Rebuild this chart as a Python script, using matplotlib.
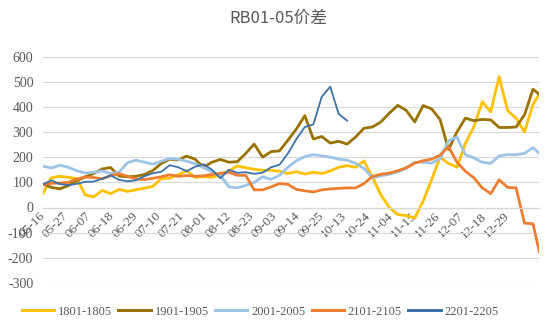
import numpy as np
import matplotlib
matplotlib.use("Agg")
import matplotlib.pyplot as plt

plt.rcParams['axes.unicode_minus'] = False

# ---------------- data ----------------
title = "RB01-05价差"
tick_labels = ['05-16', '05-27', '06-07', '06-18', '06-29', '07-10', '07-21',
               '08-01', '08-12', '08-23', '09-03', '09-14', '09-25', '10-13',
               '10-24', '11-04', '11-15', '11-26', '12-07', '12-18', '12-29']
n_categories = 236          # daily categories on the x axis
label_step = 11             # one tick label every 11 categories
sample_idx = list(range(0, 233, 4)) + [235]   # category index of each sampled value

series_names = ['1801-1805', '1901-1905', '2001-2005', '2101-2105', '2201-2205']

s1801 = [57, 118, 124, 120, 115, 50, 42, 68, 55, 72,
         64, 70, 77, 84, 115, 117, 130, 146, 120, 122,
         120, 130, 145, 165, 158, 152, 148, 148, 144, 135,
         142, 133, 140, 135, 145, 160, 166, 160, 185, 120,
         50, 0, -28, -32, -42, 25, 110, 200, 175, 160,
         255, 320, 420, 380, 520, 385, 355, 300, 410, 450]

s1901 = [93, 80, 74, 87, 106, 122, 135, 153, 159, 125,
         122, 124, 131, 147, 175, 192, 189, 204, 192, 160,
         180, 191, 180, 182, 215, 252, 200, 222, 225, 268,
         312, 365, 272, 282, 256, 263, 252, 280, 315, 320,
         340, 375, 406, 386, 340, 405, 392, 350, 230, 300,
         355, 345, 350, 348, 318, 318, 320, 368, 470, 450]

s2001 = [164, 157, 168, 160, 146, 137, 140, 145, 135, 140,
         178, 188, 180, 172, 184, 195, 192, 184, 174, 158,
         142, 128, 82, 78, 88, 100, 122, 112, 128, 160,
         186, 202, 210, 205, 200, 192, 188, 176, 155, 118,
         126, 132, 142, 156, 180, 180, 176, 195, 265, 280,
         210, 197, 180, 175, 205, 210, 210, 215, 238, 216]

s2101 = [91, 96, 97, 100, 113, 121, 119, 114, 126, 134,
         124, 113, 111, 116, 122, 130, 124, 127, 124, 126,
         131, 136, 140, 128, 128, 70, 70, 82, 95, 92,
         72, 66, 62, 70, 74, 76, 78, 78, 95, 124,
         132, 137, 146, 158, 176, 186, 192, 208, 242, 180,
         144, 118, 78, 55, 110, 80, 78, -62, -65, -175]

s2201 = [92, 108, 93, 89, 94, 102, 103, 114, 128, 110,
         104, 108, 124, 136, 142, 168, 160, 144, 162, 172,
         150, 116, 150, 138, 140, 134, 138, 160, 170, 215,
         272, 320, 330, 440, 480, 372, 345]

colors = ['#FFC000', '#997300', '#9DC3E6', '#ED7D31', '#3D72A8']
widths = [2.0, 2.0, 2.0, 2.0, 1.3]

# ---------------- figure ----------------
serif = ['Liberation Serif', 'DejaVu Serif']
txt_color = '#595959'

fig = plt.figure(figsize=(5.5, 3.28), dpi=100)
ax = fig.add_axes([43 / 550, 45 / 328, (539.3 - 43) / 550, (271.5 - 45) / 328])

all_series = [s1801, s1901, s2001, s2101, s2201]
lines = []
for name, vals, c, w in zip(series_names, all_series, colors, widths):
    x = np.array(sample_idx[:len(vals)])
    ln, = ax.plot(x, vals, color=c, lw=w, label=name, solid_joinstyle='round')
    lines.append(ln)

ax.set_xlim(0, n_categories - 1)
ax.set_ylim(-300, 600)
ax.set_yticks(np.arange(-300, 601, 100))
ax.grid(axis='y', color='#D9D9D9', lw=0.9)
ax.set_axisbelow(True)
for s in ['top', 'right', 'left']:
    ax.spines[s].set_visible(False)
ax.spines['bottom'].set_position(('data', 0))
ax.spines['bottom'].set_color('#D9D9D9')
ax.spines['bottom'].set_linewidth(0.9)

ax.set_xticks(np.arange(0, label_step * len(tick_labels), label_step))
ax.set_xticklabels(tick_labels)
ax.tick_params(axis='x', length=0, pad=5)
ax.tick_params(axis='y', length=0, pad=7)
for lab in ax.get_xticklabels():
    lab.set_rotation(45)
    lab.set_ha('right')
    lab.set_va('center')
    lab.set_rotation_mode('anchor')
    lab.set_family(serif)
    lab.set_fontsize(9.5)
    lab.set_color(txt_color)
for lab in ax.get_yticklabels():
    lab.set_family(serif)
    lab.set_fontsize(10)
    lab.set_color(txt_color)

fig.text(278 / 550, 1 - 18 / 328, title, ha='center', va='center', fontsize=12,
         family=['Noto Sans CJK SC', 'DejaVu Sans'], color=txt_color)

leg = fig.legend(handles=lines, loc='center', bbox_to_anchor=(0.473, 1 - 311.7 / 328),
                 ncol=5, frameon=False, handlelength=2.6, handletextpad=0.3,
                 columnspacing=0.5, prop={'family': serif, 'size': 9})
for t in leg.get_texts():
    t.set_color(txt_color)
for h in leg.get_lines():
    h.set_linewidth(2.2)

fig.savefig('out.png', dpi=100)
